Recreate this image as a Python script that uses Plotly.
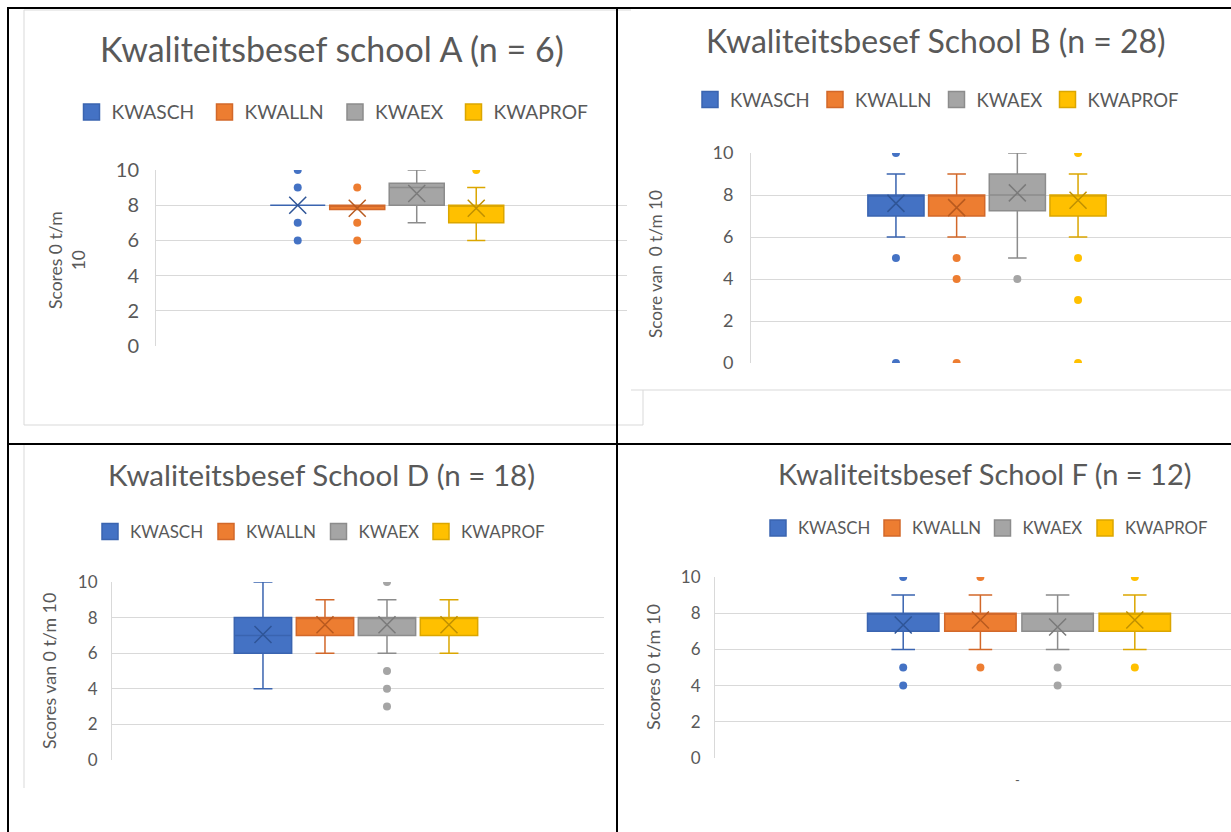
import plotly.graph_objects as go

# ---------------- data ----------------
series = ["KWASCH", "KWALLN", "KWAEX", "KWAPROF"]
fill_colors = ["#4472C4", "#ED7D31", "#A5A5A5", "#FFC000"]
line_colors = ["#3A64B0", "#D2682A", "#8C8C8C", "#DBA600"]
mean_colors = ["#2F5597", "#B85A1F", "#7A7A7A", "#BF9000"]

titles = ["Kwaliteitsbesef school A (n = 6)", "Kwaliteitsbesef School B (n = 28)",
          "Kwaliteitsbesef School D (n = 18)", "Kwaliteitsbesef School F (n = 12)"]
ytitles = ["Scores 0 t/m<br>10", "Score van\u00a0 0 t/m 10",
           "Scores van 0 t/m 10", "Scores 0 t/m 10"]
y_ticks = [0, 2, 4, 6, 8, 10]

# School A
A_q1 = [8, 7.75, 8, 7]
A_median = [8, 8, 9, 8]
A_q3 = [8, 8, 9.25, 8]
A_low = [8, 7.75, 7, 6]
A_high = [8, 8, 10, 9]
A_mean = [8, 7.83, 8.67, 7.83]
A_out = [[6, 7, 9, 10], [6, 7, 9], [], [10]]

# School B
B_q1 = [7, 7, 7.25, 7]
B_median = [8, 8, 8, 8]
B_q3 = [8, 8, 9, 8]
B_low = [6, 6, 5, 6]
B_high = [9, 9, 10, 9]
B_mean = [7.6, 7.4, 8.1, 7.75]
B_out = [[10, 5, 0], [5, 4, 0], [4], [10, 5, 3, 0]]

# School D
D_q1 = [6, 7, 7, 7]
D_median = [7, 8, 8, 8]
D_q3 = [8, 8, 8, 8]
D_low = [4, 6, 6, 6]
D_high = [10, 9, 9, 9]
D_mean = [7.05, 7.6, 7.6, 7.6]
D_out = [[], [], [10, 5, 4, 3], []]

# School F
F_q1 = [7, 7, 7, 7]
F_median = [8, 8, 8, 8]
F_q3 = [8, 8, 8, 8]
F_low = [6, 6, 6, 6]
F_high = [9, 9, 9, 9]
F_mean = [7.35, 7.62, 7.24, 7.62]
F_out = [[10, 5, 4], [10, 5], [5, 4], [10, 5]]

schools = [
    (A_q1, A_median, A_q3, A_low, A_high, A_mean, A_out),
    (B_q1, B_median, B_q3, B_low, B_high, B_mean, B_out),
    (D_q1, D_median, D_q3, D_low, D_high, D_mean, D_out),
    (F_q1, F_median, F_q3, F_low, F_high, F_mean, F_out),
]

# ---------------- layout helpers (pixel -> paper) ----------------
W, H = 1231, 832
def px(x):
    return x / W
def py(y):
    return 1 - y / H

FONT = "Lato, Carlito, Calibri, sans-serif"
TXT = "#595959"

cfg = [
    dict(L=156, R=627, y0=346, y10=170, xr=[-2.382, 5.534], tick=20, stand=12,
         title=(332, 48, 34), ytitle=(67, 260, 17.5),
         leg_y=112, leg_size=19.2, leg_x=[71.5, 204.5, 335, 453.5]),
    dict(L=751, R=1231, y0=363, y10=153, xr=[-2.388, 5.52], tick=18, stand=13,
         title=(936, 40, 32), ytitle=(655, 264, 17.2),
         leg_y=100, leg_size=18.5, leg_x=[690, 815, 936.5, 1047.5]),
    dict(L=112, R=604, y0=760, y10=582, xr=[-2.435, 5.5], tick=17, stand=10,
         title=(321, 474, 29.5), ytitle=(49, 671, 17.8),
         leg_y=532, leg_size=17, leg_x=[90, 206, 318.5, 421]),
    dict(L=715, R=1231, y0=758, y10=577, xr=[-2.438, 4.246], tick=17, stand=10,
         title=(985, 473, 29), ytitle=(653, 667, 18),
         leg_y=528, leg_size=16.8, leg_x=[758, 872, 982.5, 1085]),
]

fig = go.Figure()
annotations = []
layout_axes = {}

for ci, (q1, med, q3, lo, hi, mean, outs) in enumerate(schools):
    n = ci + 1
    xa = "x" if n == 1 else f"x{n}"
    ya = "y" if n == 1 else f"y{n}"
    c = cfg[ci]
    for si, name in enumerate(series):
        lnum = ci * 4 + si + 1
        lg = "legend" if lnum == 1 else f"legend{lnum}"
        fig.add_trace(go.Box(
            x=[name], q1=[q1[si]], median=[med[si]], q3=[q3[si]],
            lowerfence=[lo[si]], upperfence=[hi[si]], orientation="v",
            fillcolor=fill_colors[si], line=dict(color=line_colors[si], width=1.5),
            whiskerwidth=0.33, boxpoints=False, showlegend=False,
            hoverinfo="skip", xaxis=xa, yaxis=ya))
        if outs[si]:
            fig.add_trace(go.Scatter(
                x=[name] * len(outs[si]), y=outs[si], mode="markers",
                marker=dict(color=fill_colors[si], size=8),
                showlegend=False, hoverinfo="skip", xaxis=xa, yaxis=ya))
        fig.add_trace(go.Scatter(
            x=[name], y=[mean[si]], mode="markers",
            marker=dict(symbol="x-thin", size=17,
                        line=dict(color=mean_colors[si], width=1.5)),
            showlegend=False, hoverinfo="skip", xaxis=xa, yaxis=ya))
        # legend entry (one legend box per entry, placed like the original)
        fig.add_trace(go.Scatter(
            x=[None], y=[None], mode="markers", name=name,
            marker=dict(symbol="square", size=16, color=fill_colors[si],
                        line=dict(color=line_colors[si], width=1.5)),
            legend=lg, xaxis=xa, yaxis=ya, hoverinfo="skip"))
        layout_axes[lg] = dict(
            orientation="h", x=px(c["leg_x"][si]), y=py(c["leg_y"]),
            xanchor="left", yanchor="middle", bgcolor="rgba(0,0,0,0)",
            font=dict(family=FONT, size=c["leg_size"], color=TXT),
            itemclick=False, itemdoubleclick=False)

    xkey = "xaxis" if n == 1 else f"xaxis{n}"
    ykey = "yaxis" if n == 1 else f"yaxis{n}"
    layout_axes[xkey] = dict(
        domain=[px(c["L"]), px(c["R"])], range=c["xr"], type="category",
        categoryorder="array", categoryarray=series, anchor=ya,
        showgrid=False, zeroline=False, showline=False, showticklabels=False,
        ticks="", fixedrange=True)
    layout_axes[ykey] = dict(
        domain=[py(c["y0"]), py(c["y10"])], range=[0, 10], anchor=xa,
        tickmode="array", tickvals=y_ticks, ticktext=[str(v) for v in y_ticks],
        showgrid=True, gridcolor="#D9D9D9", gridwidth=1, zeroline=False,
        showline=True, linecolor="#D9D9D9", linewidth=1,
        ticks="outside", ticklen=c["stand"], tickcolor="rgba(0,0,0,0)",
        tickfont=dict(family=FONT, size=c["tick"], color=TXT), fixedrange=True)
    tx, ty, ts = c["title"]
    annotations.append(dict(text=titles[ci], x=px(tx), y=py(ty), xref="paper", yref="paper",
                            xanchor="center", yanchor="middle", showarrow=False,
                            font=dict(family=FONT, size=ts, color=TXT)))
    ax_, ay_, as_ = c["ytitle"]
    annotations.append(dict(text=ytitles[ci], x=px(ax_), y=py(ay_), xref="paper", yref="paper",
                            xanchor="center", yanchor="middle", showarrow=False, textangle=-90,
                            font=dict(family=FONT, size=as_, color=TXT)))

# category label under chart F
annotations.append(dict(text="-", x=px(1022), y=py(790), xref="paper", yref="paper",
                        showarrow=False, font=dict(family=FONT, size=13, color=TXT)))

def line(x0, y0, x1, y1, color, width, layer="above"):
    return dict(type="line", xref="paper", yref="paper", x0=px(x0), y0=py(y0),
                x1=px(x1), y1=py(y1), line=dict(color=color, width=width), layer=layer)

GR = "#D9D9D9"
shapes = [
    # chart area borders
    line(24, 10, 631, 10, GR, 1, "below"),
    line(24, 10, 24, 425, GR, 1, "below"),
    line(24, 425, 643, 425, GR, 1, "below"),
    line(643, 390, 643, 425, GR, 1, "below"),
    line(631, 390, 1231, 390, GR, 1, "below"),
    line(24, 445, 24, 788, GR, 1, "below"),
    # table grid
    line(7, 8, 1231, 8, "#000000", 2),
    line(8, 7, 8, 832, "#000000", 2),
    line(617, 7, 617, 832, "#000000", 2),
    line(7, 444, 1231, 444, "#000000", 2),
]

fig.update_layout(
    width=W, height=H, autosize=False,
    margin=dict(l=0, r=0, t=0, b=0, pad=0, autoexpand=False),
    paper_bgcolor="white", plot_bgcolor="white",
    boxmode="overlay", boxgap=0.075, boxgroupgap=0,
    annotations=annotations, shapes=shapes,
    font=dict(family=FONT, color=TXT),
    **layout_axes,
)

fig.write_html("out.html", include_plotlyjs=True, config={"displayModeBar": False},
               post_script="document.body.style.margin='0px';document.body.style.overflow='hidden';")
